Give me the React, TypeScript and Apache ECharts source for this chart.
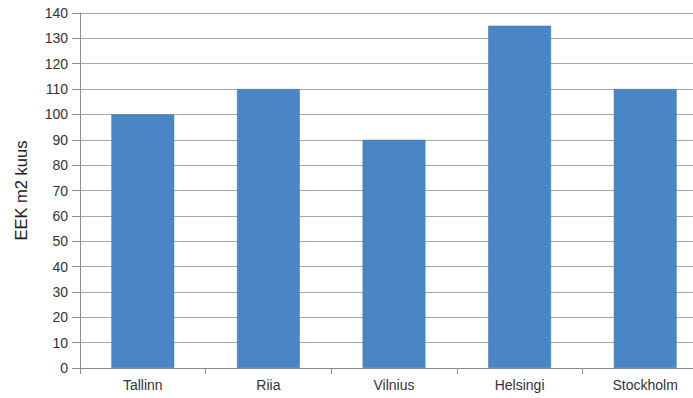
import React, { useEffect, useRef } from "react";
import * as echarts from "echarts";

const categories = ["Tallinn", "Riia", "Vilnius", "Helsingi", "Stockholm"];
const values = [100, 110, 90, 135, 110];
const yAxisName = "EEK m2 kuus";

export default function App() {
  const ref = useRef<HTMLDivElement>(null);
  useEffect(() => {
    if (!ref.current) return;
    const chart = echarts.init(ref.current, undefined, { renderer: "svg" });
    chart.setOption({
      animation: false,
      backgroundColor: "#ffffff",
      textStyle: { fontFamily: "Liberation Sans, Arial, sans-serif" },
      grid: { left: 80, right: 7, top: 13, bottom: 30, containLabel: false },
      xAxis: {
        type: "category",
        data: categories,
        axisLine: { show: true, lineStyle: { color: "#8c8c8c", width: 1 } },
        axisTick: { show: true, length: 6, alignWithLabel: false, lineStyle: { color: "#8c8c8c" } },
        axisLabel: { color: "#333333", fontSize: 14, margin: 10 },
      },
      yAxis: {
        type: "value",
        min: 0,
        max: 140,
        interval: 10,
        name: yAxisName,
        nameLocation: "middle",
        nameGap: 51,
        nameTextStyle: { color: "#222222", fontSize: 16.5 },
        axisLine: { show: true, lineStyle: { color: "#8c8c8c", width: 1 } },
        axisTick: { show: true, length: 8, lineStyle: { color: "#8c8c8c" } },
        axisLabel: { color: "#333333", fontSize: 14, margin: 12 },
        splitLine: { show: true, lineStyle: { color: "#a6a6a6", width: 1 } },
      },
      series: [
        {
          type: "bar",
          data: values,
          barWidth: "50%",
          itemStyle: { color: "#4a85c5", borderColor: "#3f74ad", borderWidth: 0.5 },
        },
      ],
    });
    return () => chart.dispose();
  }, []);
  return (
    <div style={{ position: "absolute", left: 0, top: 0, width: 693, height: 398, overflow: "hidden" }}>
      <div ref={ref} style={{ width: 715, height: 398 }} />
    </div>
  );
}
